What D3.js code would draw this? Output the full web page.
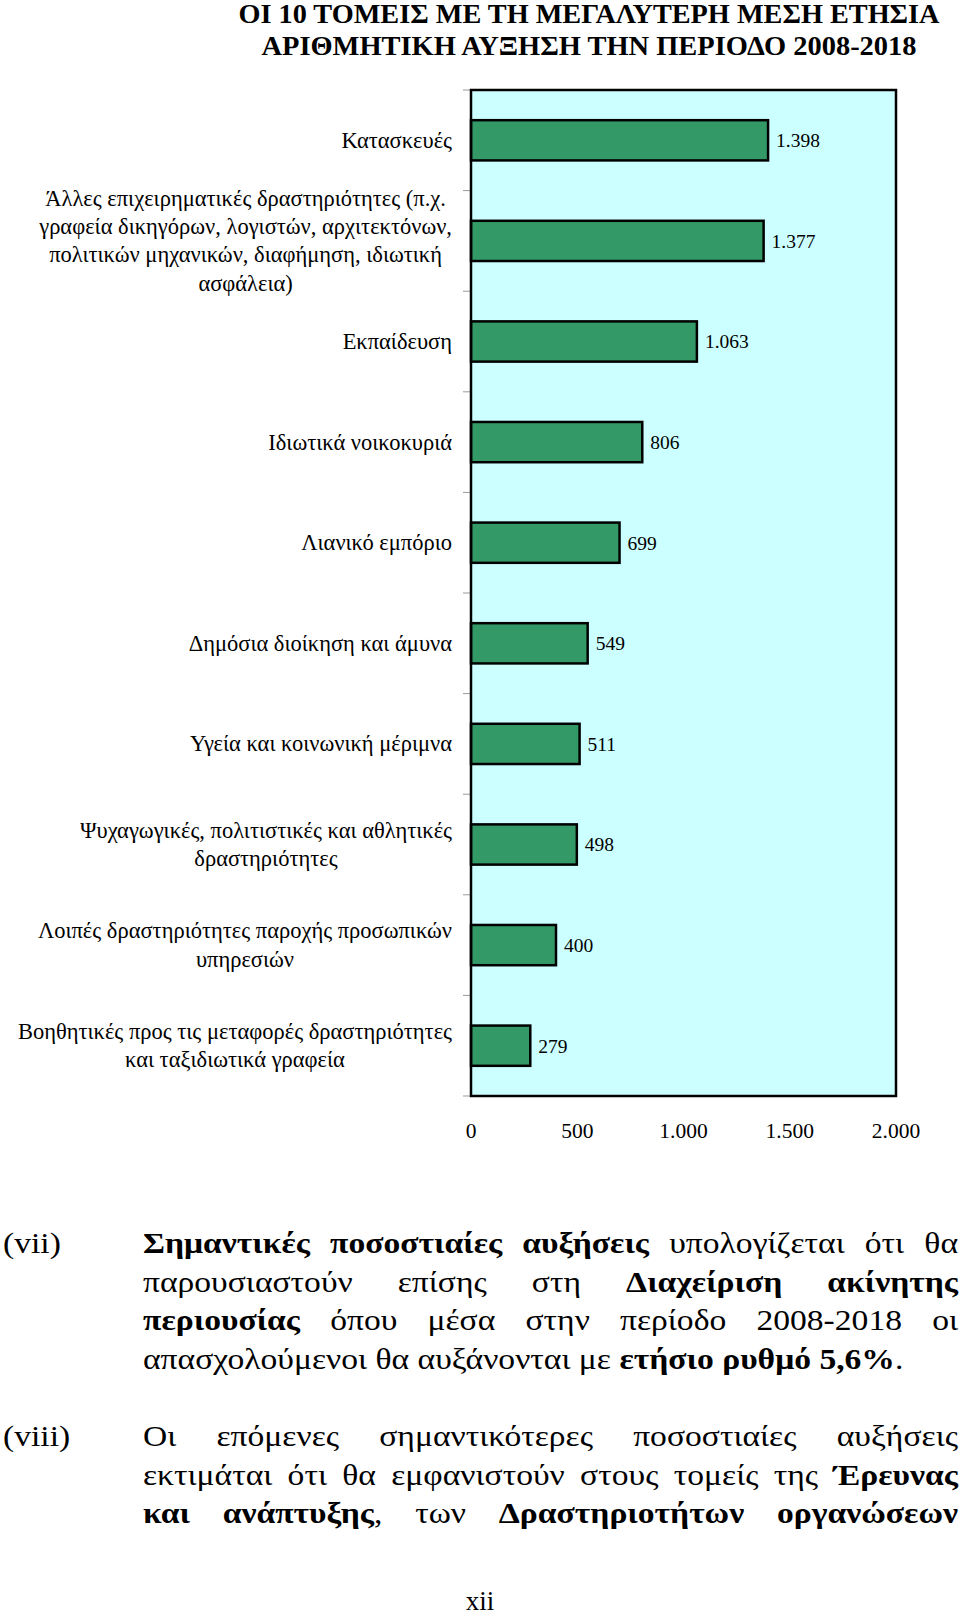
<!DOCTYPE html>
<html>
<head>
<meta charset="utf-8">
<script src="https://cdn.jsdelivr.net/npm/d3@7"></script>
<style>
  body { margin: 0; background: #fff; }
  svg { display: block; font-family: "Liberation Serif", "DejaVu Serif Condensed", "DejaVu Serif", serif; }
</style>
</head>
<body>
<div id="chart"></div>
<script>
  const w = 960;
  const h = 1618;

  // sectors, top to bottom (each entry = label lines)
  const categories = [
    ['Κατασκευές'],
    ['Άλλες επιχειρηματικές δραστηριότητες (π.χ.', 'γραφεία δικηγόρων, λογιστών, αρχιτεκτόνων,', 'πολιτικών μηχανικών, διαφήμηση, ιδιωτική', 'ασφάλεια)'],
    ['Εκπαίδευση'],
    ['Ιδιωτικά νοικοκυριά'],
    ['Λιανικό εμπόριο'],
    ['Δημόσια διοίκηση και άμυνα'],
    ['Υγεία και κοινωνική μέριμνα'],
    ['Ψυχαγωγικές, πολιτιστικές και αθλητικές', 'δραστηριότητες'],
    ['Λοιπές δραστηριότητες παροχής προσωπικών', 'υπηρεσιών'],
    ['Βοηθητικές προς τις μεταφορές δραστηριότητες', 'και ταξιδιωτικά γραφεία']
  ];
  const values = [1398, 1377, 1063, 806, 699, 549, 511, 498, 400, 279];
  const xTicks = [0, 500, 1000, 1500, 2000];

  const titleLines = ['ΟΙ 10 ΤΟΜΕΙΣ ΜΕ ΤΗ ΜΕΓΑΛΥΤΕΡΗ ΜΕΣΗ ΕΤΗΣΙΑ', 'ΑΡΙΘΜΗΤΙΚΗ ΑΥΞΗΣΗ ΤΗΝ ΠΕΡΙΟΔΟ 2008-2018'];

  // body text below the chart: [text, bold] runs per line
  const para7 = [
    [['Σημαντικές ποσοστιαίες αυξήσεις', 1], [' υπολογίζεται ότι θα', 0]],
    [['παρουσιαστούν επίσης στη ', 0], ['Διαχείριση ακίνητης', 1]],
    [['περιουσίας', 1], [' όπου μέσα στην περίοδο 2008-2018 οι', 0]],
    [['απασχολούμενοι θα αυξάνονται με ', 0], ['ετήσιο ρυθμό 5,6%', 1], ['.', 0]]
  ];
  const para8 = [
    [['Οι επόμενες σημαντικότερες ποσοστιαίες αυξήσεις', 0]],
    [['εκτιμάται ότι θα εμφανιστούν στους τομείς της ', 0], ['Έρευνας', 1]],
    [['και ανάπτυξης', 1], [', των ', 0], ['Δραστηριοτήτων οργανώσεων', 1]]
  ];

  const plot = { left: 471, right: 896, top: 90, bottom: 1096 };

  const x = d3.scaleLinear().domain([0, 2000]).range([plot.left, plot.right]);
  const y = d3.scaleBand()
    .domain(d3.range(values.length))
    .range([plot.top, plot.bottom])
    .paddingInner(0.6)
    .paddingOuter(0.3);

  const svg = d3.select('#chart').append('svg')
      .attr('width', w)
      .attr('height', h);

  // title
  svg.append('g').selectAll('text')
    .data(titleLines)
  .enter().append('text')
      .attr('x', 589)
      .attr('y', (d, i) => 23 + i * 32)
      .attr('text-anchor', 'middle')
      .attr('textLength', (d, i) => i ? 655 : 701)
      .attr('lengthAdjust', 'spacingAndGlyphs')
      .style('font-size', '27px')
      .style('font-weight', 'bold')
      .text(d => d);

  // plot area
  svg.append('rect')
      .attr('x', plot.left)
      .attr('y', plot.top)
      .attr('width', plot.right - plot.left)
      .attr('height', plot.bottom - plot.top)
      .style('fill', '#ccffff');

  // category tick marks on the left
  const step = y.step();
  svg.append('g').selectAll('line')
    .data(d3.range(values.length + 1))
  .enter().append('line')
      .attr('x1', plot.left - 8)
      .attr('x2', plot.left)
      .attr('y1', i => plot.top + i * step)
      .attr('y2', i => plot.top + i * step)
      .style('stroke', '#999')
      .style('stroke-width', 1);

  // bars
  svg.append('g').selectAll('rect')
    .data(values)
  .enter().append('rect')
      .attr('x', x(0))
      .attr('y', (d, i) => y(i))
      .attr('width', d => x(d) - x(0))
      .attr('height', y.bandwidth())
      .style('fill', '#339966')
      .style('stroke', '#000')
      .style('stroke-width', 2.5);

  // frame
  svg.append('rect')
      .attr('x', plot.left)
      .attr('y', plot.top)
      .attr('width', plot.right - plot.left)
      .attr('height', plot.bottom - plot.top)
      .style('fill', 'none')
      .style('stroke', '#000')
      .style('stroke-width', 2.5);

  // value labels
  const fmt = v => d3.format(',')(v).replace(/,/g, '.');
  svg.append('g').selectAll('text')
    .data(values)
  .enter().append('text')
      .attr('x', d => x(d) + 8)
      .attr('y', (d, i) => y(i) + y.bandwidth() / 2)
      .attr('dy', '0.35em')
      .style('font-size', '19.5px')
      .text(d => fmt(d));

  // x axis labels
  svg.append('g').selectAll('text')
    .data(xTicks)
  .enter().append('text')
      .attr('x', d => x(d))
      .attr('y', 1138)
      .attr('text-anchor', 'middle')
      .style('font-size', '21.5px')
      .text(d => fmt(d));

  // category labels: block right-aligned, lines centred within it
  const lineH = 28.3;
  const labelRight = 452;
  const labels = svg.append('g').selectAll('g')
    .data(categories)
  .enter().append('g');

  labels.each(function(lines, i) {
    const g = d3.select(this);
    const cy = y(i) + y.bandwidth() / 2;
    const texts = lines.map((t, k) => g.append('text')
        .attr('y', cy + (k - (lines.length - 1) / 2) * lineH)
        .attr('dy', '0.33em')
        .attr('text-anchor', 'middle')
        .style('font-size', '22.5px')
        .text(t));
    const blockW = d3.max(texts, t => t.node().getComputedTextLength());
    texts.forEach(t => t.attr('x', labelRight - blockW / 2));
  });

  // body paragraphs (Times Greek is wider than Liberation's, so stretch a bit)
  const textLeft = 143;
  const textRight = 958;
  const bodySize = 30;
  const sx = 1.12;

  function drawLine(runs, baseline, justify) {
    const t = svg.append('g')
        .attr('transform', `translate(${textLeft},${baseline}) scale(${sx},1)`)
      .append('text')
        .style('font-size', bodySize + 'px');
    const toks = [];
    runs.forEach(([txt, b]) => {
      txt.split(/( )/).forEach(p => {
        if (p === ' ') toks.push({ gap: true });
        else if (p) toks.push({ t: p, b: b });
      });
    });
    let sum = 0, gaps = 0;
    toks.forEach(k => {
      if (k.gap) { gaps++; return; }
      k.node = t.append('tspan')
          .style('font-weight', k.b ? 'bold' : 'normal')
          .text(k.t);
      k.w = k.node.node().getComputedTextLength();
      sum += k.w;
    });
    const avail = (textRight - textLeft) / sx;
    const gapW = justify && gaps ? (avail - sum) / gaps : bodySize * 0.25;
    let cx = 0;
    toks.forEach(k => {
      if (k.gap) { cx += gapW; return; }
      k.node.attr('x', cx);
      cx += k.w;
    });
  }

  para7.forEach((runs, i) => drawLine(runs, 1253 + i * 38.6, i < para7.length - 1));
  para8.forEach((runs, i) => drawLine(runs, 1446 + i * 38.6, true));

  const side = svg.append('g').style('font-size', bodySize + 'px');
  side.append('text').attr('transform', `translate(3,1253) scale(${sx},1)`).text('(vii)');
  side.append('text').attr('transform', `translate(3,1446) scale(${sx},1)`).text('(viii)');
  svg.append('text').attr('x', 480).attr('y', 1610).attr('text-anchor', 'middle')
      .style('font-size', '27px').text('xii');
</script>
</body>
</html>
